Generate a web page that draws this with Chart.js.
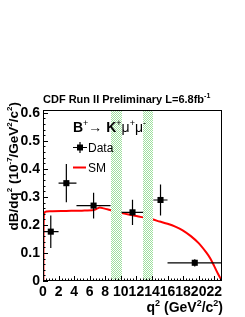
<!DOCTYPE html>
<html>
<head>
<meta charset="utf-8">
<script src="https://cdn.jsdelivr.net/npm/chart.js@4/dist/chart.umd.min.js"></script>
<style>
  html, body { margin: 0; padding: 0; background: #fff; }
  #wrap { width: 245px; height: 317px; }
</style>
</head>
<body>
<div id="wrap"><canvas id="c" width="245" height="317"></canvas></div>
<script>
// === measured points (q2 bins, dB/dq2 in 1e-7 / GeV2/c2) ===
const binLo = [0, 2, 4.3, 10.09, 14.18, 16];
const binHi = [2, 4.3, 8.68, 12.86, 16, 23];
const qData = [1, 3, 6.5, 11.5, 15.1, 19.5];
const dbData = [0.176, 0.349, 0.269, 0.245, 0.289, 0.065];
const dbErr = [0.058, 0.068, 0.046, 0.045, 0.055, 0.013];

// === SM prediction ===
const smQ = [0.05, 0.1, 0.25, 1, 3, 5, 6.5, 7, 7.3, 7.8, 8.5, 10, 11, 12, 13, 14, 15, 16, 17, 18, 19, 20, 21, 21.5, 22, 22.5, 23];
const smDb = [0, 0.23, 0.246, 0.249, 0.25, 0.251, 0.253, 0.259, 0.262, 0.259, 0.254, 0.243, 0.237, 0.232, 0.226, 0.22, 0.212, 0.204, 0.194, 0.18, 0.16, 0.135, 0.101, 0.08, 0.053, 0.025, 0];

// === charmonium veto regions ===
const vetoLo = [8.68, 12.86];
const vetoHi = [10.09, 14.18];

const xTicks = [0, 2, 4, 6, 8, 10, 12, 14, 16, 18, 20, 22];
const yTicks = [0, 0.1, 0.2, 0.3, 0.4, 0.5, 0.6];
const yTickLabels = ['0', '0.1', '0.2', '0.3', '0.4', '0.5', '0.6'];

const FONT = "'Liberation Sans', Arial, sans-serif";

// texte avec exposants
function drawRich(ctx, parts, x, y, size, align) {
  const supSize = Math.round(size * 0.62);
  const fontOf = p => (p[1].includes('b') ? 'bold ' : '') + (p[1].includes('s') ? supSize : size) + 'px ' + FONT;
  let w = 0;
  parts.forEach(p => { ctx.font = fontOf(p); w += ctx.measureText(p[0]).width; });
  let cx = align === 'right' ? x - w : x;
  ctx.textAlign = 'left';
  ctx.textBaseline = 'alphabetic';
  parts.forEach(p => {
    ctx.font = fontOf(p);
    const dy = p[1].includes('s') ? -size * 0.42 : 0;
    ctx.fillText(p[0], cx, y + dy);
    cx += ctx.measureText(p[0]).width;
  });
  return w;
}

function makeHatch() {
  const pc = document.createElement('canvas');
  pc.width = 2; pc.height = 2;
  const p = pc.getContext('2d');
  p.fillStyle = '#ffffff'; p.fillRect(0, 0, 2, 2);
  p.fillStyle = '#9fe09f';
  p.fillRect(0, 0, 1, 1); p.fillRect(1, 1, 1, 1);
  return pc;
}

const hepPlugin = {
  id: 'hep',
  afterDatasetDraw(chart, args) {
    if (args.index !== 1) return;
    const { ctx, chartArea: a, scales: { x } } = chart;
    ctx.save();
    ctx.fillStyle = ctx.createPattern(makeHatch(), 'repeat');
    vetoLo.forEach((lo, i) => {
      const x0 = Math.round(x.getPixelForValue(lo)), x1 = Math.round(x.getPixelForValue(vetoHi[i]));
      ctx.fillRect(x0, a.top + 1, x1 - x0, a.bottom - a.top - 1);
    });
    ctx.restore();
  },
  beforeDatasetDraw(chart, args) {
    if (args.index !== 0) return;
    const { ctx, scales: { x, y } } = chart;
    ctx.save();
    ctx.strokeStyle = '#000';
    ctx.lineWidth = 1.2;
    qData.forEach((q, i) => {
      const px = x.getPixelForValue(q), py = y.getPixelForValue(dbData[i]);
      ctx.beginPath();
      ctx.moveTo(x.getPixelForValue(binLo[i]), py);
      ctx.lineTo(x.getPixelForValue(binHi[i]), py);
      ctx.moveTo(px, y.getPixelForValue(dbData[i] - dbErr[i]));
      ctx.lineTo(px, y.getPixelForValue(dbData[i] + dbErr[i]));
      ctx.stroke();
    });
    ctx.restore();
  },
  afterDraw(chart) {
    const { ctx, chartArea: a, scales: { x, y } } = chart;
    ctx.save();
    // cadre
    ctx.strokeStyle = '#000';
    ctx.lineWidth = 1;
    ctx.strokeRect(Math.round(a.left) + 0.5, Math.round(a.top) + 0.5, Math.round(a.right - a.left) - 1, Math.round(a.bottom - a.top) - 1);
    // ticks inside (ROOT style)
    ctx.beginPath();
    for (let v = 0; v <= 23.001; v += 0.4) {
      const px = Math.round(x.getPixelForValue(v)) + 0.5;
      const major = Math.abs(v / 2 - Math.round(v / 2)) < 1e-6;
      ctx.moveTo(px, a.bottom);
      ctx.lineTo(px, a.bottom - (major ? 5 : 2.5));
    }
    for (let v = 0; v <= 0.6101; v += 0.02) {
      const py = Math.round(y.getPixelForValue(v)) + 0.5;
      const major = Math.abs(v * 10 - Math.round(v * 10)) < 1e-6;
      ctx.moveTo(a.left, py);
      ctx.lineTo(a.left + (major ? 5 : 2.5), py);
    }
    ctx.stroke();

    ctx.fillStyle = '#000';
    // titre
    drawRich(ctx, [['CDF Run II Preliminary L=6.8fb', 'b'], ['-1', 'bs']], 43, 103, 11, 'left');
    // axis titles
    drawRich(ctx, [['q', 'b'], ['2', 'bs'], [' (GeV', 'b'], ['2', 'bs'], ['/c', 'b'], ['2', 'bs'], [')', 'b']], 223, 312, 14, 'right');
    ctx.save();
    ctx.translate(18, 102);
    ctx.rotate(-Math.PI / 2);
    drawRich(ctx, [['dB/dq', 'b'], ['2', 'bs'], [' (10', 'b'], ['-7', 'bs'], ['/GeV', 'b'], ['2', 'bs'], ['/c', 'b'], ['2', 'bs'], [')', 'b']], 0, 0, 13.5, 'right');
    ctx.restore();

    // legend
    let lx = 73;
    lx += drawRich(ctx, [['B', 'b'], ['+', 's']], lx, 131.5, 14, 'left');
    lx += drawRich(ctx, [['\u2192 ', 'n']], lx, 131.5, 14, 'left');
    drawRich(ctx, [['K', 'b'], ['+', 's'], ['\u03bc', 'n'], ['+', 's'], ['\u03bc', 'n'], ['-', 's']], lx, 131.5, 14, 'left');

    ctx.strokeStyle = '#000';
    ctx.lineWidth = 1.2;
    ctx.beginPath();
    ctx.moveTo(73, 147.5); ctx.lineTo(87, 147.5);
    ctx.moveTo(80, 142); ctx.lineTo(80, 153);
    ctx.stroke();
    ctx.fillRect(77, 144.5, 6, 6);
    drawRich(ctx, [['Data', 'n']], 88, 152, 12, 'left');

    ctx.strokeStyle = '#ff0000';
    ctx.lineWidth = 2;
    ctx.beginPath();
    ctx.moveTo(73, 167.5); ctx.lineTo(86, 167.5);
    ctx.stroke();
    drawRich(ctx, [['SM', 'n']], 88, 172, 12, 'left');
    ctx.restore();
  }
};

Chart.defaults.font.family = FONT;
Chart.defaults.color = '#000';

new Chart(document.getElementById('c'), {
  type: 'scatter',
  data: {
    datasets: [{
      label: 'Data',
      data: qData.map((q, i) => ({ x: q, y: dbData[i] })),
      pointStyle: 'rect',
      pointRadius: 4.3,
      backgroundColor: '#000',
      borderColor: '#000',
      borderWidth: 0
    }, {
      label: 'SM',
      data: smQ.map((q, i) => ({ x: q, y: smDb[i] })),
      showLine: true,
      pointRadius: 0,
      borderColor: '#ff0000',
      borderWidth: 2,
      tension: 0.3,
      fill: false
    }]
  },
  options: {
    responsive: false,
    animation: false,
    devicePixelRatio: 1,
    layout: { padding: { top: 110, right: 23, left: 0, bottom: 0 } },
    plugins: { legend: { display: false }, title: { display: false }, tooltip: { enabled: false } },
    scales: {
      x: {
        type: 'linear', min: 0, max: 23,
        grid: { display: false, drawTicks: false },
        border: { display: false },
        ticks: { autoSkip: false, maxRotation: 0, padding: 3, font: { size: 14, weight: 'bold' }, callback: v => String(v) },
        afterBuildTicks: s => { s.ticks = xTicks.map(v => ({ value: v })); },
        afterFit: s => { s.height = 36; s.paddingLeft = 0; s.paddingRight = 0; }
      },
      y: {
        type: 'linear', min: 0, max: 0.61,
        grid: { display: false, drawTicks: false },
        border: { display: false },
        ticks: { autoSkip: false, padding: 3, font: { size: 14, weight: 'bold' }, callback: (v, i) => yTickLabels[i] },
        afterBuildTicks: s => { s.ticks = yTicks.map(v => ({ value: v })); },
        afterFit: s => { s.width = 43; s.paddingTop = 0; s.paddingBottom = 0; }
      }
    }
  },
  plugins: [hepPlugin]
});
</script>
</body>
</html>
